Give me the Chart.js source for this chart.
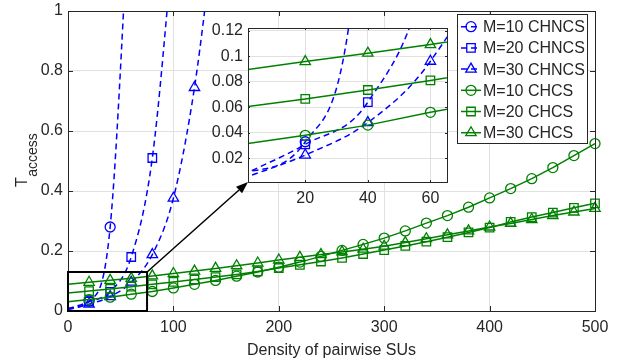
<!DOCTYPE html>
<html>
<head>
<meta charset="utf-8">
<script src="https://cdn.jsdelivr.net/npm/chart.js@4.4.1/dist/chart.umd.min.js"></script>
<style>
  body { margin: 0; background: #fff; }
  #wrap { position: relative; width: 618px; height: 362px; }
  #main { position: absolute; left: 0; top: 0; }
  #inset { position: absolute; left: 200px; top: 18px; }
</style>
</head>
<body>
<div id="wrap">
  <canvas id="main" width="618" height="362"></canvas>
  <canvas id="inset" width="260" height="200"></canvas>
</div>
<script>
/* data */
const densities = [0, 20, 40, 60, 80, 100, 120, 140, 160, 180, 200, 220, 240,
  260, 280, 300, 320, 340, 360, 380, 400, 420, 440, 460, 480, 500];

// CHNCS curves leave the plot quickly; last value of each is above the top
const m10CHNCS = [0.0087, 0.033, 0.28, 1.48];
const m20CHNCS = [0.007, 0.031, 0.064, 0.18, 0.51, 1.23];
const m30CHNCS = [0.0043, 0.0226, 0.048, 0.096, 0.188, 0.376, 0.745, 1.3];

const m10CHCS = [0.031, 0.038, 0.046, 0.056, 0.065, 0.077, 0.089, 0.102, 0.116, 0.130,
  0.146, 0.163, 0.182, 0.202, 0.222, 0.243, 0.267, 0.293, 0.318, 0.346,
  0.377, 0.408, 0.441, 0.478, 0.518, 0.558];
const m20CHCS = [0.060, 0.0665, 0.0735, 0.081, 0.089, 0.097, 0.105, 0.113, 0.122, 0.132,
  0.143, 0.154, 0.165, 0.177, 0.190, 0.203, 0.217, 0.231, 0.246, 0.262,
  0.278, 0.297, 0.313, 0.328, 0.344, 0.359];
const m30CHCS = [0.089, 0.0957, 0.1023, 0.109, 0.117, 0.125, 0.133, 0.142, 0.151, 0.160,
  0.170, 0.179, 0.188, 0.197, 0.206, 0.216, 0.228, 0.241, 0.254, 0.267,
  0.280, 0.292, 0.305, 0.318, 0.330, 0.342];

const seriesLabels = ['M=10 CHNCS', 'M=20 CHNCS', 'M=30 CHNCS', 'M=10 CHCS', 'M=20 CHCS', 'M=30 CHCS'];

const xTicks = [0, 100, 200, 300, 400, 500];
const xTickLabels = ['0', '100', '200', '300', '400', '500'];
const yTicks = [0, 0.2, 0.4, 0.6, 0.8, 1];
const yTickLabels = ['0', '0.2', '0.4', '0.6', '0.8', '1'];
const insetXTicks = [20, 40, 60];
const insetXTickLabels = ['20', '40', '60'];
const insetYTicks = [0.02, 0.04, 0.06, 0.08, 0.1, 0.12];
const insetYTickLabels = ['0.02', '0.04', '0.06', '0.08', '0.1', '0.12'];

// region that is magnified in the inset
const zoomBox = { x0: 0, x1: 75, y0: 0, y1: 0.13 };

const BLUE = '#0000ff', GREEN = '#008000', AXIS = '#262626', GRID = '#e1e1e1';
const FONT = '"Liberation Sans", Arial, Helvetica, sans-serif';
const RADIUS = { circle: 5, rect: 6, triangle: 6 };

function points(values) {
  return values.map((v, i) => ({ x: densities[i], y: v }));
}

function makeDatasets(isMain) {
  const defs = [
    [m10CHNCS, 'circle', BLUE, true],
    [m20CHNCS, 'rect', BLUE, true],
    [m30CHNCS, 'triangle', BLUE, true],
    [m10CHCS, 'circle', GREEN, false],
    [m20CHCS, 'rect', GREEN, false],
    [m30CHCS, 'triangle', GREEN, false],
  ];
  return defs.map(([vals, style, color, dashed], k) => {
    const ds = {
      label: seriesLabels[k],
      data: points(vals),
      borderColor: color,
      borderWidth: 1.5,
      borderDash: dashed ? [6, 4] : [],
      pointStyle: style,
      pointRadius: vals.map((v, i) => (i === 0 ? 0 : RADIUS[style])),
      pointBorderWidth: 1.3,
      pointBorderColor: color,
      pointBackgroundColor: 'rgba(0,0,0,0)',
      cubicInterpolationMode: dashed ? 'monotone' : 'default',
      order: dashed ? 1 : 0,
    };
    if (isMain && !dashed) ds.clip = 8;
    return ds;
  });
}

function fixedScale(axis, min, max, ticks, labels, size, pad) {
  return {
    type: 'linear',
    min, max,
    afterBuildTicks: s => { s.ticks = ticks.map(v => ({ value: v })); },
    afterFit: s => {
      if (axis === 'x') s.height = size; else s.width = size;
      s.paddingLeft = s.paddingRight = s.paddingTop = s.paddingBottom = 0;
    },
    grid: { color: GRID, lineWidth: 1, drawTicks: false },
    border: { display: false },
    ticks: {
      color: AXIS,
      font: { family: FONT, size: 16 },
      padding: pad,
      maxRotation: 0,
      autoSkip: false,
      callback: (v, i) => labels[i],
    },
  };
}

function drawBoxAndTicks(chart, xs, ys, len) {
  const { ctx, chartArea: a, scales } = chart;
  ctx.save();
  ctx.strokeStyle = AXIS;
  ctx.lineWidth = 1;
  ctx.beginPath();
  xs.forEach(v => {
    const px = Math.round(scales.x.getPixelForValue(v)) + 0.5;
    ctx.moveTo(px, a.bottom); ctx.lineTo(px, a.bottom - len);
    ctx.moveTo(px, a.top); ctx.lineTo(px, a.top + len);
  });
  ys.forEach(v => {
    const py = Math.round(scales.y.getPixelForValue(v)) + 0.5;
    ctx.moveTo(a.left, py); ctx.lineTo(a.left + len, py);
    ctx.moveTo(a.right, py); ctx.lineTo(a.right - len, py);
  });
  ctx.stroke();
  ctx.strokeRect(Math.round(a.left) + 0.5, Math.round(a.top) + 0.5,
    Math.round(a.right - a.left), Math.round(a.bottom - a.top));
  ctx.restore();
}

/* inset */
const insetPlugin = {
  id: 'insetFrame',
  beforeDraw(chart) {
    const { ctx, chartArea: a } = chart;
    ctx.save();
    ctx.fillStyle = '#fff';
    ctx.fillRect(a.left, a.top, a.right - a.left, a.bottom - a.top);
    ctx.restore();
  },
  afterDraw(chart) { drawBoxAndTicks(chart, insetXTicks, insetYTicks, 2); },
};

const insetCanvas = document.getElementById('inset');
const insetChart = new Chart(insetCanvas, {
  type: 'line',
  data: { datasets: makeDatasets(false) },
  options: {
    responsive: false,
    animation: false,
    events: [],
    layout: { padding: { left: 0, top: 10, right: 13, bottom: 0 } },
    plugins: { legend: { display: false }, tooltip: { enabled: false } },
    scales: {
      x: fixedScale('x', 1.7, 65.3, insetXTicks, insetXTickLabels, 36, 7),
      y: fixedScale('y', 0.0015, 0.122, insetYTicks, insetYTickLabels, 48, 5),
    },
  },
  plugins: [insetPlugin],
});

/* main chart */
const mainPlugin = {
  id: 'mainDecor',
  afterDraw(chart) {
    const { ctx, scales } = chart;
    drawBoxAndTicks(chart, xTicks, yTicks, 5);

    // zoom rectangle
    const rx0 = scales.x.getPixelForValue(zoomBox.x0), rx1 = scales.x.getPixelForValue(zoomBox.x1);
    const ry0 = scales.y.getPixelForValue(zoomBox.y0), ry1 = scales.y.getPixelForValue(zoomBox.y1);
    ctx.save();
    ctx.strokeStyle = '#000';
    ctx.lineWidth = 2;
    ctx.strokeRect(rx0, ry1, rx1 - rx0, ry0 - ry1);

    // arrow to the inset corner
    const ia = insetChart.chartArea;
    const tx = insetCanvas.offsetLeft + ia.left, ty = insetCanvas.offsetTop + ia.bottom;
    const ang = Math.atan2(ty - ry1, tx - rx1);
    const hl = 12, hw = 4.5;
    const bx = tx - hl * Math.cos(ang), by = ty - hl * Math.sin(ang);
    ctx.lineWidth = 1.5;
    ctx.beginPath();
    ctx.moveTo(rx1, ry1);
    ctx.lineTo(bx, by);
    ctx.stroke();
    ctx.fillStyle = '#000';
    ctx.beginPath();
    ctx.moveTo(tx, ty);
    ctx.lineTo(bx + hw * Math.sin(ang), by - hw * Math.cos(ang));
    ctx.lineTo(bx - hw * Math.sin(ang), by + hw * Math.cos(ang));
    ctx.closePath();
    ctx.fill();
    ctx.restore();

    // legend
    const lg = { left: 457, top: 14, right: 587, bottom: 143 };
    ctx.save();
    ctx.fillStyle = '#fff';
    ctx.fillRect(lg.left, lg.top, lg.right - lg.left, lg.bottom - lg.top);
    ctx.strokeStyle = AXIS;
    ctx.lineWidth = 1;
    ctx.strokeRect(lg.left + 0.5, lg.top + 0.5, lg.right - lg.left, lg.bottom - lg.top);
    ctx.font = '16px ' + FONT;
    ctx.textBaseline = 'middle';
    chart.data.datasets.forEach((ds, i) => {
      const y = 26.7 + i * 21.2;
      ctx.strokeStyle = ds.borderColor;
      ctx.lineWidth = ds.borderWidth;
      ctx.setLineDash(ds.borderDash);
      ctx.beginPath();
      ctx.moveTo(461, y); ctx.lineTo(481, y);
      ctx.stroke();
      ctx.setLineDash([]);
      ctx.lineWidth = ds.pointBorderWidth;
      ctx.fillStyle = 'rgba(0,0,0,0)';
      Chart.helpers.drawPoint(ctx, { pointStyle: ds.pointStyle, radius: RADIUS[ds.pointStyle], rotation: 0, borderWidth: ds.pointBorderWidth }, 471, y);
      ctx.fillStyle = AXIS;
      ctx.fillText(ds.label, 483, y + 1);
    });
    ctx.restore();

    // y axis title with subscript
    ctx.save();
    ctx.translate(27, 187);
    ctx.rotate(-Math.PI / 2);
    ctx.fillStyle = AXIS;
    ctx.textBaseline = 'alphabetic';
    ctx.font = '16px ' + FONT;
    ctx.fillText('T', 0, 0);
    const tw = ctx.measureText('T').width;
    ctx.font = '14px ' + FONT;
    ctx.fillText('access', tw + 0.5, 9.5);
    ctx.restore();
  },
};

const mainChart = new Chart(document.getElementById('main'), {
  type: 'line',
  data: { datasets: makeDatasets(true) },
  options: {
    responsive: false,
    animation: false,
    events: [],
    layout: { padding: { left: 0, top: 11, right: 23, bottom: 0 } },
    plugins: { legend: { display: false }, tooltip: { enabled: false } },
    scales: {
      x: Object.assign(fixedScale('x', 0, 500, xTicks, xTickLabels, 51, 7), {
        title: { display: true, text: 'Density of pairwise SUs', color: AXIS,
          font: { family: FONT, size: 16 }, padding: { top: 0, bottom: 2 } },
      }),
      y: fixedScale('y', 0, 1, yTicks, yTickLabels, 68, 5),
    },
  },
  plugins: [mainPlugin],
});
</script>
</body>
</html>
